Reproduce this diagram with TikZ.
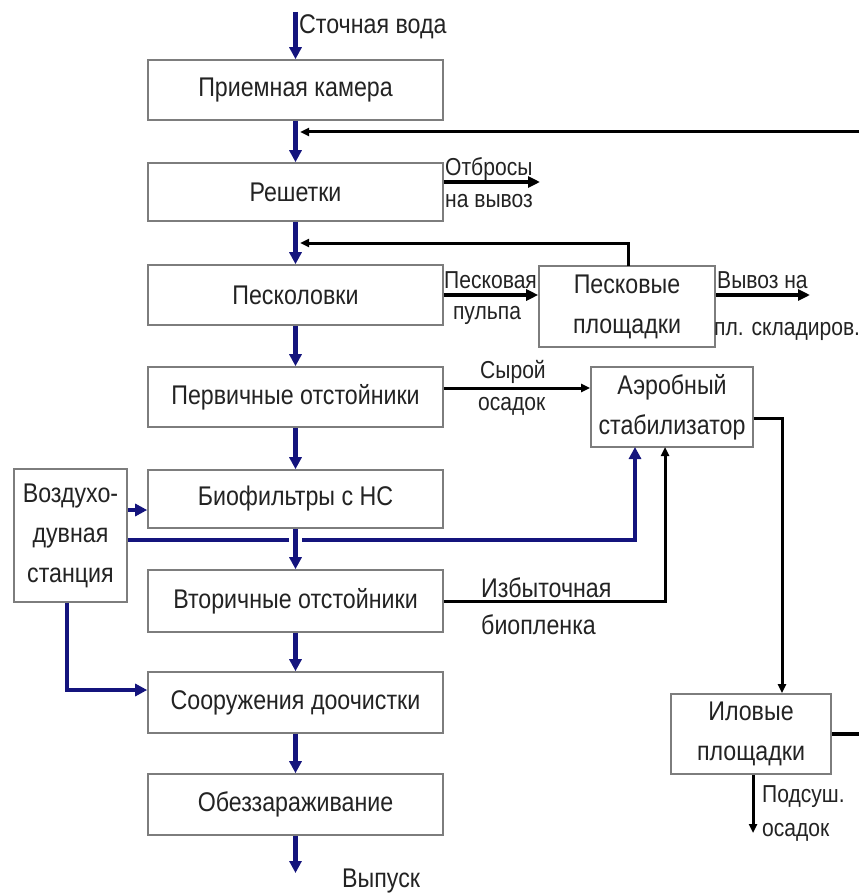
\documentclass[tikz,border=0pt]{standalone}
\usepackage{fontspec}
\setmainfont{Liberation Sans}[FakeStretch=0.86]
\usetikzlibrary{arrows.meta}
\definecolor{navy}{RGB}{20,20,125}
\definecolor{boxgray}{RGB}{125,125,125}
\definecolor{txt}{RGB}{35,35,35}
\begin{document}
\begin{tikzpicture}[x=1pt,y=-1pt,
  box/.style={draw=boxgray,line width=1.6pt,fill=white,inner sep=0pt,text=txt,
    font=\fontsize{27}{40}\selectfont,align=center},
  mainbox/.style={box,minimum width=295pt,minimum height=60pt},
  lbl/.style={text=txt,font=\fontsize{24.5}{28}\selectfont,inner sep=0pt},
  lblb/.style={text=txt,font=\fontsize{27}{30}\selectfont,inner sep=0pt},
  bflow/.style={draw=navy,line width=4.2pt,-{Triangle[length=12pt,width=12pt]}},
  bline/.style={draw=navy,line width=4.2pt},
  kflow/.style={draw=black,line width=3.6pt,-{Triangle[length=12pt,width=11pt]}},
  kthin/.style={draw=black,line width=3pt,-{Triangle[length=9pt,width=8pt]}},
  kline/.style={draw=black,line width=3.4pt}]
\useasboundingbox (0,0) rectangle (859,896);
% boxes
\node[mainbox] (pk) at (295.5,90) {Приемная камера};
\node[mainbox,minimum height=58pt] (resh) at (295.5,192) {Решетки};
\node[mainbox] (pesk) at (295.5,295) {Песколовки};
\node[mainbox] (perv) at (295.5,397) {Первичные отстойники};
\node[mainbox,minimum height=58pt] (bio) at (295.5,499) {Биофильтры с НС};
\node[mainbox,minimum height=62pt] (vtor) at (295.5,601) {Вторичные отстойники};
\node[mainbox,minimum height=61pt] (dooch) at (295.5,702.5) {Сооружения доочистки};
\node[mainbox,minimum height=61pt] (obezz) at (295.5,804.5) {Обеззараживание};
\node[box,minimum width=113pt,minimum height=133pt] (air) at (70.5,535.5) {Воздухо-\\дувная\\станция};
\node[box,minimum width=176pt,minimum height=81pt] (pp) at (627,306.5) {Песковые\\площадки};
\node[box,minimum width=162pt,minimum height=80pt] (aer) at (672,407) {Аэробный\\стабилизатор};
\node[box,minimum width=160pt,minimum height=80pt] (ilov) at (751,734) {Иловые\\площадки};
% free ends and corners
\coordinate (in) at (295.5,12);
\coordinate (out) at (295.5,873);
\coordinate (fbR) at (859,132);
\coordinate (fbL) at (300,132);
\coordinate (otbE) at (540,182);
\coordinate (vyvE) at (810,295);
\coordinate (ilR) at (859,734);
\coordinate (podE) at (753,833);
\coordinate (gapL) at (289,540);
\coordinate (gapR) at (302,540);
\coordinate (airIn) at (635,447);
\coordinate (bioIn) at (665,447);
\coordinate (ppTop) at (628,266);
\coordinate (ppFb) at (300,243);
% main flow
\draw[bflow] (in) -- (pk.north);
\draw[bflow] (pk.south) -- (resh.north);
\draw[bflow] (resh.south) -- (pesk.north);
\draw[bflow] (pesk.south) -- (perv.north);
\draw[bflow] (perv.south) -- (bio.north);
\draw[bflow] (bio.south) -- (vtor.north);
\draw[bflow] (vtor.south) -- (dooch.north);
\draw[bflow] (dooch.south) -- (obezz.north);
\draw[bflow] (obezz.south) -- (out);
% air
\draw[bflow] (air.east |- 0,510) -- (bio.west |- 0,510);
\draw[bline] (air.east |- gapL) -- (gapL);
\draw[bflow] (gapR) -| (airIn);
\draw[bflow] (air.south -| 67,0) |- (dooch.west |- 0,690);
% black lines
\draw[kthin] (fbR) -- (fbL);
\draw[kflow] (resh.east |- otbE) -- (otbE);
\draw[kthin] (ppTop) |- (ppFb);
\draw[kflow] (pesk.east |- 0,295) -- (pp.west |- 0,295);
\draw[kflow] (pp.east |- vyvE) -- (vyvE);
\draw[kthin] (perv.east |- 0,388) -- (aer.west |- 0,388);
\draw[kthin] (vtor.east |- 0,601) -| (bioIn);
\draw[kthin] (aer.east |- 0,418) -| (ilov.north -| 782,0);
\draw[kline] (ilov.east |- ilR) -- (ilR);
\draw[kthin] (ilov.south -| podE) -- (podE);
% labels
\node[lblb,anchor=west] (l1) at (299,27) {Сточная вода};
\node[lbl,anchor=west] (l2) at (445,169) {Отбросы};
\node[lbl,anchor=west] (l3) at (445,201) {на вывоз};
\node[lbl,anchor=west] (l4) at (444,280) {Песковая};
\node[lbl] (l5) at (487,315) {пульпа};
\node[lbl,anchor=west] (l6) at (717,280) {Вывоз на};
\node[lbl,anchor=west] (l7) at (714,331) {пл. складиров.};
\node[lbl,anchor=west] (l8) at (480,372) {Сырой};
\node[lbl,anchor=west] (l9) at (478,406) {осадок};
\node[lblb,anchor=west] (l10) at (481,588) {Избыточная};
\node[lblb,anchor=west] (l11) at (481,625) {биопленка};
\node[lbl,anchor=west] (l12) at (762,797) {Подсуш.};
\node[lbl,anchor=west] (l13) at (762,832) {осадок};
\node[lblb,anchor=west] (l14) at (342,881) {Выпуск};
\end{tikzpicture}
\end{document}
